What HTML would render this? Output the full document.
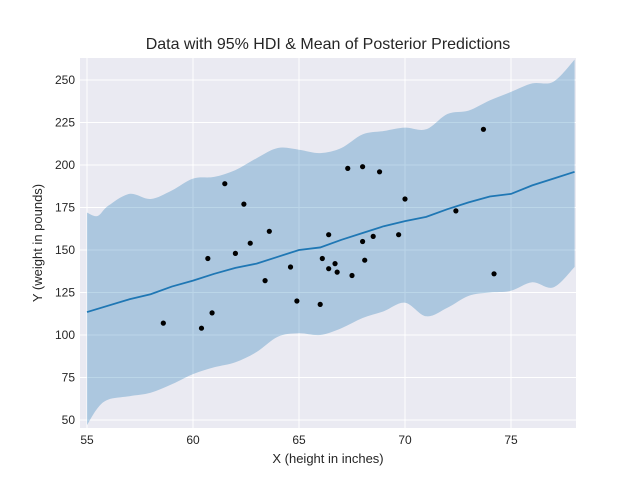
<!DOCTYPE html>
<html><head><meta charset="utf-8"><style>
body{margin:0;background:#fff;font-family:"Liberation Sans",sans-serif}
</style></head><body>
<svg id="chart" width="640" height="480" xmlns="http://www.w3.org/2000/svg" font-family="Liberation Sans, sans-serif">
<rect x="0" y="0" width="640" height="480" fill="#fff"/>
<rect x="80" y="58" width="496" height="370" fill="#eaeaf2"/>
<g id="grid"></g>
<g id="band"></g>
<g id="line"></g>
<g id="points"></g>
<g id="xticks"></g>
<g id="yticks"></g>
<text x="328" y="49" text-anchor="middle" font-size="16" fill="#262626">Data with 95% HDI &amp; Mean of Posterior Predictions</text>
<text x="328" y="463" text-anchor="middle" font-size="13" fill="#262626">X (height in inches)</text>
<text x="0" y="0" transform="translate(42,243) rotate(-90)" text-anchor="middle" font-size="13" fill="#262626">Y (weight in pounds)</text>
</svg>
<script>
const pointX=[58.6,60.4,60.9,60.7,61.5,62.0,62.4,62.7,63.4,63.6,64.6,64.9,66.0,66.1,66.4,66.4,66.7,66.8,67.3,67.5,68.0,68.0,68.1,68.5,68.8,69.7,70.0,72.4,73.7,74.2];
const pointY=[107,104,113,145,189,148,177,154,132,161,140,120,118,145,139,159,142,137,198,135,199,155,144,158,196,159,180,173,221,136];
const bandX=[55,55.5,56,57,58,59,60,61,62,63,64,65,66,67,68,69,70,71,72,73,74,75,76,77,78];
const bandUpper=[172,170,176,183,180,185,192,193,197,204,210,209,207,210,218,220,222,221,230,232,238,243,248,249,262];
const bandLower=[47,57,62,64,66,71,77,81,84,90,99,101,100,104,110,114,119,111,116,123,125,126,131,128,140];
const meanX=[55,57,58,59,60,61,62,63,64,65,66,67,68,69,70,71,72,73,74,75,76,77,78];
const meanY=[113.5,121,124,128.5,132,136,139.5,142,146,150,151.5,156,160,164,167,169.5,174,178,181.5,183,188,192,196];
const xTicks=[55,60,65,70,75];
const yTicks=[50,75,100,125,150,175,200,225,250];
const NS="http://www.w3.org/2000/svg";
const xs=v=>87+(v-55)*21.2;
const ys=v=>420-(v-50)*1.7;
function mk(tag,attrs,parent){const e=document.createElementNS(NS,tag);for(const k in attrs)e.setAttribute(k,attrs[k]);document.getElementById(parent).appendChild(e);return e;}
function smooth(pts,start){
 let d=start?('M'+pts[0][0]+','+pts[0][1]):('L'+pts[0][0]+','+pts[0][1]);
 for(let i=0;i<pts.length-1;i++){
  const p0=pts[Math.max(0,i-1)],p1=pts[i],p2=pts[i+1],p3=pts[Math.min(pts.length-1,i+2)];
  const c1=[p1[0]+(p2[0]-p0[0])/6,p1[1]+(p2[1]-p0[1])/6];
  const c2=[p2[0]-(p3[0]-p1[0])/6,p2[1]-(p3[1]-p1[1])/6];
  d+='C'+c1[0]+','+c1[1]+' '+c2[0]+','+c2[1]+' '+p2[0]+','+p2[1];
 }
 return d;
}
xTicks.forEach(t=>{
 const g=mk('line',{x1:xs(t),x2:xs(t),y1:58,y2:428,stroke:'#fff','stroke-width':1},'grid');
 
 
 const l=mk('text',{x:xs(t),y:444,'text-anchor':'middle','font-size':12,fill:'#262626'},'xticks');
 l.textContent=t;
 
 
});
yTicks.forEach(t=>{
 const g=mk('line',{x1:80,x2:576,y1:ys(t),y2:ys(t),stroke:'#fff','stroke-width':1},'grid');
 
 
 const l=mk('text',{x:75,y:ys(t)+4,'text-anchor':'end','font-size':12,fill:'#262626'},'yticks');
 l.textContent=t;
 
 
});
const up=bandX.map((x,i)=>[xs(x),ys(bandUpper[i])]);
const lo=bandX.map((x,i)=>[xs(x),ys(bandLower[i])]).reverse();
const b=mk('path',{d:smooth(up,true)+smooth(lo,false)+'Z',fill:'#1f77b4','fill-opacity':0.3},'band');


const ln=mk('polyline',{points:meanX.map((x,i)=>xs(x)+','+ys(meanY[i])).join(' '),fill:'none',stroke:'#1f77b4','stroke-width':1.8},'line');


pointX.forEach((x,i)=>{
 const c=mk('circle',{cx:xs(x),cy:ys(pointY[i]),r:2.6,fill:'#000'},'points');
 
 
});
</script>
</body></html>
